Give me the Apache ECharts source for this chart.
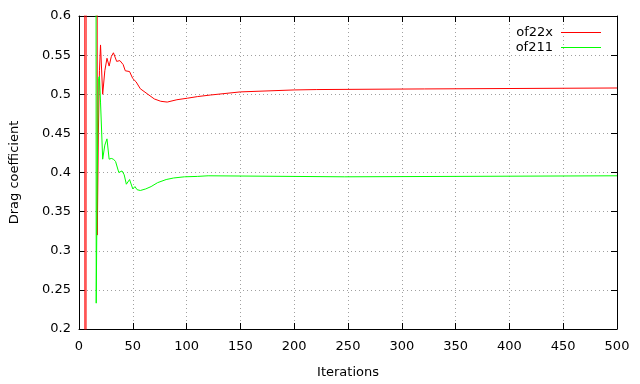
<!DOCTYPE html>
<html>
<head>
<meta charset="utf-8">
<script src="https://cdn.jsdelivr.net/npm/echarts@6/dist/echarts.min.js"></script>
<style>
  html, body { margin: 0; padding: 0; background: #fff; }
  #chart { width: 640px; height: 384px; }
</style>
</head>
<body>
<div id="chart"></div>
<script>
// 两条阻力系数收敛曲线（gnuplot 风格）
const SERIES_NAMES = ['of22x', 'of211'];
const COLORS = ['#ff0000', '#00ff00'];

// of22x：迭代步 / 阻力系数（超出 0.2~0.6 的部分被裁掉）
const redIter = [1, 5, 6, 7, 16, 17, 18, 19, 20, 22, 24, 26, 28, 30, 32, 35, 38, 41, 43, 47, 50, 53, 57, 64, 70, 76, 82, 91, 101, 110, 122, 150, 200, 221, 222, 321, 322, 500];
const redDrag = [3.0, 3.0, -3.0, 3.0, 3.0, 0.32, 0.45, 0.53, 0.563, 0.500, 0.530, 0.546, 0.536, 0.548, 0.553, 0.542, 0.543, 0.538, 0.530, 0.529, 0.520, 0.516, 0.507, 0.500, 0.494, 0.491, 0.490, 0.493, 0.495, 0.497, 0.499, 0.503, 0.5055, 0.506, 0.5068, 0.5068, 0.508, 0.508];

// of211
const greenIter = [1, 15, 16, 17, 18, 19, 20, 22, 24, 26, 28, 30, 32, 34, 37, 40, 42, 44, 47, 50, 52, 54, 57, 62, 67, 73, 81, 88, 98, 110, 120, 121, 247, 248, 500];
const greenDrag = [3.0, 3.0, 0.233, 0.40, 0.52, 0.523, 0.49, 0.417, 0.435, 0.443, 0.417, 0.418, 0.417, 0.414, 0.400, 0.402, 0.397, 0.385, 0.391, 0.379, 0.382, 0.378, 0.377, 0.379, 0.382, 0.387, 0.391, 0.393, 0.3945, 0.395, 0.3958, 0.3945, 0.3945, 0.3958, 0.3958];

const X_MIN = 0, X_MAX = 500, X_STEP = 50;
const Y_MIN = 0.2, Y_MAX = 0.6, Y_STEP = 0.05;

const FONT = 'DejaVu Sans';
const FS = 13;
const zip = (xs, ys) => xs.map((x, i) => [x, ys[i]]);

const gridLine = { show: true, lineStyle: { color: '#a0a0a0', type: [1, 3], width: 1 } };
const frameLine = { show: true, onZero: false, lineStyle: { color: '#000', width: 1 } };
const inTick = { show: true, inside: true, length: 6, lineStyle: { color: '#000' } };

const chart = echarts.init(document.getElementById('chart'), null, { renderer: 'canvas' });
chart.setOption({
  animation: false,
  textStyle: { fontFamily: FONT },
  grid: { left: 78, right: 23, top: 16, bottom: 54 },
  legend: {
    data: SERIES_NAMES,
    orient: 'vertical',
    align: 'right',
    right: 34,
    top: 21,
    itemWidth: 40,
    itemHeight: 1,
    itemGap: 2,
    icon: 'rect',
    textStyle: { color: '#000', fontSize: FS, fontFamily: FONT, padding: [0, 3, 0, 0] },
  },
  xAxis: [{
    type: 'value', min: X_MIN, max: X_MAX, interval: X_STEP,
    name: 'Iterations', nameLocation: 'middle', nameGap: 37,
    nameTextStyle: { color: '#000', fontSize: FS },
    axisLine: frameLine, axisTick: inTick, splitLine: gridLine,
    axisLabel: { color: '#000', fontSize: FS, margin: 11 },
  }, {
    type: 'value', position: 'top', min: X_MIN, max: X_MAX, interval: X_STEP,
    axisLine: frameLine, axisTick: inTick, splitLine: { show: false },
    axisLabel: { show: false },
  }],
  yAxis: [{
    type: 'value', min: Y_MIN, max: Y_MAX, interval: Y_STEP,
    name: 'Drag coefficient', nameLocation: 'middle', nameGap: 58,
    nameTextStyle: { color: '#000', fontSize: FS },
    axisLine: frameLine, axisTick: inTick, splitLine: gridLine,
    axisLabel: { color: '#000', fontSize: FS, margin: 8, formatter: (v) => String(+v.toFixed(2)) },
  }, {
    type: 'value', position: 'right', min: Y_MIN, max: Y_MAX, interval: Y_STEP,
    axisLine: frameLine, axisTick: inTick, splitLine: { show: false },
    axisLabel: { show: false },
  }],
  series: [
    {
      name: SERIES_NAMES[0], type: 'line', data: zip(redIter, redDrag),
      showSymbol: false, symbol: 'none', clip: true,
      color: COLORS[0], lineStyle: { width: 1, color: COLORS[0] },
    },
    {
      name: SERIES_NAMES[1], type: 'line', data: zip(greenIter, greenDrag),
      showSymbol: false, symbol: 'none', clip: true,
      color: COLORS[1], lineStyle: { width: 1, color: COLORS[1] },
    },
  ],
});
</script>
</body>
</html>
